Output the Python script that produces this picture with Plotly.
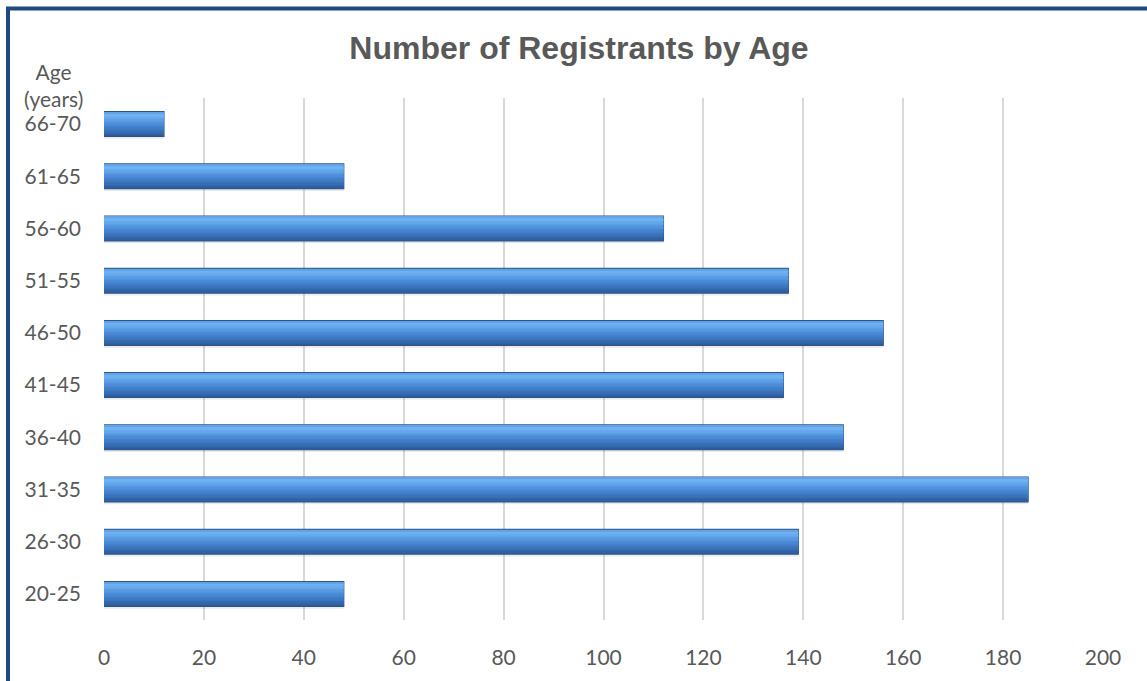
import plotly.graph_objects as go

# Registrant counts per age bracket (bottom to top)
age_groups = ["20-25", "26-30", "31-35", "36-40", "41-45",
              "46-50", "51-55", "56-60", "61-65", "66-70"]
registrants = [48, 139, 185, 148, 136, 156, 137, 112, 48, 12]
x_ticks = [0, 20, 40, 60, 80, 100, 120, 140, 160, 180, 200]

TICK_FONT = dict(family="Lato, Open Sans, sans-serif", size=21, color="#595959")
BAR_H = 0.475  # bar thickness in category units
N_BANDS = 18   # horizontal slices used to shade each bar

# vertical shading profile of a bar: (position 0=bottom..1=top, rgb)
SHADE = [
    (0.00, (43, 88, 150)),
    (0.20, (55, 110, 182)),
    (0.50, (74, 138, 214)),
    (0.78, (100, 168, 236)),
    (0.90, (114, 182, 244)),
    (1.00, (92, 156, 228)),
]


def shade_at(t):
    for (t0, c0), (t1, c1) in zip(SHADE, SHADE[1:]):
        if t0 <= t <= t1:
            f = (t - t0) / (t1 - t0)
            return "rgb({},{},{})".format(*(round(a + (b - a) * f) for a, b in zip(c0, c1)))
    return "rgb({},{},{})".format(*SHADE[-1][1])


fig = go.Figure()

# soft drop shadow under each bar
fig.add_trace(go.Bar(
    y=age_groups, x=registrants, orientation="h",
    offset=-BAR_H / 2 - 0.045, width=BAR_H,
    marker=dict(color="rgba(0,0,0,0.08)", line=dict(width=0)),
    hoverinfo="skip", showlegend=False,
))

# bar body with outline
fig.add_trace(go.Bar(
    y=age_groups, x=registrants, orientation="h",
    offset=-BAR_H / 2, width=BAR_H,
    marker=dict(color="#4383cf", line=dict(color="#2c5489", width=1.2)),
    hoverinfo="skip", showlegend=False,
))

# shading slices inside the outline
inner = BAR_H - 0.02
band = inner / N_BANDS
for i in range(N_BANDS):
    t = (i + 0.5) / N_BANDS
    fig.add_trace(go.Bar(
        y=age_groups, x=registrants, orientation="h",
        offset=-inner / 2 + i * band, width=band * 1.02,
        marker=dict(color=shade_at(t), line=dict(width=0)),
        hoverinfo="skip", showlegend=False,
    ))

fig.update_layout(
    width=1147,
    height=681,
    barmode="overlay",
    paper_bgcolor="white",
    plot_bgcolor="white",
    margin=dict(l=104, r=44, t=98, b=58),
    title=dict(
        text="<b>Number of Registrants by Age</b>",
        font=dict(family="Liberation Sans, Arial, sans-serif", size=32, color="#595959"),
        x=579 / 1147, xanchor="center",
        y=1 - 48 / 681, yanchor="middle",
    ),
    xaxis=dict(
        range=[0, 200],
        tickvals=x_ticks,
        showgrid=True,
        gridcolor="#d9d9d9",
        gridwidth=1.5,
        zeroline=False,
        showline=False,
        tickfont=TICK_FONT,
        ticklabelstandoff=23,
        fixedrange=True,
    ),
    yaxis=dict(
        categoryorder="array",
        categoryarray=age_groups,
        range=[-0.5, len(age_groups) - 0.5],
        showgrid=False,
        zeroline=False,
        showline=False,
        tickfont=TICK_FONT,
        ticklabelstandoff=22,
        fixedrange=True,
    ),
    annotations=[
        dict(
            text="Age<br>(years)",
            xref="paper", yref="paper",
            x=-51 / 999, y=(623 - 85) / 525,
            xanchor="center", yanchor="middle",
            showarrow=False,
            font=TICK_FONT,
        )
    ],
    shapes=[
        # frame border along the top and left edges
        dict(
            type="path",
            xref="paper", yref="paper",
            path="M {x0},{y0} L {x0},{y1} L {x1},{y1}".format(
                x0=(8 - 104) / 999,
                y0=(623 - 700) / 525,
                y1=(623 - 8) / 525,
                x1=(1160 - 104) / 999,
            ),
            line=dict(color="#1d4a80", width=4),
            layer="above",
        )
    ],
)

fig.write_html("out.html")
